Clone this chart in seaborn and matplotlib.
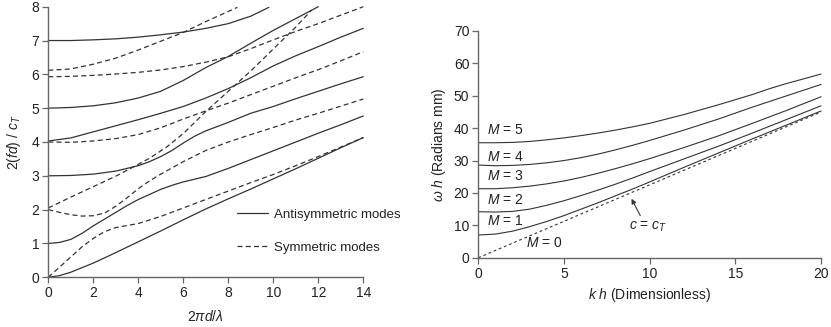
import matplotlib
matplotlib.use("Agg")
import matplotlib.pyplot as plt
import pandas as pd
import seaborn as sns
from matplotlib.lines import Line2D

# ---------------- Left panel: Lamb-wave dispersion, 2(fd)/c_T vs 2*pi*d/lambda
a0_x = [0, 0.5, 1, 2, 3, 4, 5, 6, 7, 8, 9, 10, 11, 12, 13, 14]
a0_y = [0, 0.05, 0.15, 0.42, 0.73, 1.05, 1.37, 1.70, 2.02, 2.32, 2.61, 2.91, 3.21, 3.52, 3.83, 4.13]

s0_x = [0, 0.5, 1, 1.5, 2, 2.5, 3, 3.5, 4, 5, 6, 7, 8, 9, 10, 11, 12, 13, 14]
s0_y = [0, 0.30, 0.60, 0.90, 1.15, 1.35, 1.47, 1.53, 1.59, 1.80, 2.05, 2.30, 2.55, 2.80, 3.04, 3.30, 3.57, 3.85, 4.13]

a1_x = [0, 0.5, 1, 1.5, 2, 2.5, 3, 3.5, 4, 4.5, 5, 5.5, 6, 7, 8, 9, 10, 11, 12, 13, 14]
a1_y = [1.0, 1.03, 1.12, 1.30, 1.52, 1.72, 1.92, 2.12, 2.30, 2.45, 2.60, 2.72, 2.82, 2.98, 3.22, 3.48, 3.74, 4.00, 4.26, 4.51, 4.77]

s1_x = [0, 0.5, 1, 1.5, 2, 2.5, 3, 3.5, 4, 4.5, 5, 6, 7, 8, 9, 10, 11, 12, 13, 14]
s1_y = [2.0, 1.92, 1.85, 1.81, 1.82, 1.90, 2.10, 2.35, 2.62, 2.85, 3.05, 3.42, 3.75, 4.00, 4.22, 4.43, 4.65, 4.85, 5.06, 5.27]

s2_x = [0, 1, 2, 3, 3.8, 4.5, 5.26, 6, 7, 8, 9, 10, 11, 11.7]
s2_y = [2.05, 2.37, 2.68, 2.99, 3.27, 3.52, 3.85, 4.25, 4.90, 5.50, 6.10, 6.75, 7.40, 7.90]

a2_x = [0, 1, 2, 3, 4, 4.5, 5, 5.5, 6, 6.5, 7, 8, 9, 10, 11, 12, 13, 14]
a2_y = [3.0, 3.01, 3.05, 3.14, 3.30, 3.42, 3.57, 3.75, 3.97, 4.17, 4.33, 4.58, 4.85, 5.05, 5.28, 5.50, 5.72, 5.93]

s3_x = [0, 1, 2, 3, 4, 5, 6, 7, 8, 9, 10, 11, 12, 13, 14]
s3_y = [4.0, 3.99, 4.03, 4.10, 4.22, 4.42, 4.68, 4.92, 5.15, 5.40, 5.65, 5.90, 6.14, 6.40, 6.67]

a3_x = [0, 1, 2, 3, 4, 5, 6, 7, 8, 9, 10, 11, 12, 13, 14]
a3_y = [4.03, 4.12, 4.30, 4.48, 4.66, 4.85, 5.05, 5.30, 5.58, 5.90, 6.25, 6.55, 6.82, 7.10, 7.36]

a4_x = [0, 1, 2, 3, 4, 5, 6, 7, 8, 9, 10, 11, 12]
a4_y = [5.0, 5.02, 5.07, 5.16, 5.30, 5.50, 5.82, 6.20, 6.53, 6.92, 7.30, 7.65, 8.0]

s4_x = [0, 1, 2, 3, 4, 5, 6, 7, 8, 9, 10, 11, 12, 13, 14]
s4_y = [5.93, 5.94, 5.97, 6.01, 6.06, 6.13, 6.23, 6.36, 6.52, 6.76, 7.02, 7.27, 7.50, 7.75, 8.0]

s5_x = [0, 1, 2, 3, 4, 5, 6, 7, 8, 8.4]
s5_y = [6.12, 6.16, 6.30, 6.48, 6.72, 6.98, 7.24, 7.56, 7.86, 7.98]

a5_x = [0, 1, 2, 3, 4, 5, 6, 7, 8, 9, 9.8]
a5_y = [7.0, 7.0, 7.02, 7.05, 7.10, 7.17, 7.25, 7.36, 7.50, 7.72, 7.98]

left_xticks = [0, 2, 4, 6, 8, 10, 12, 14]
left_yticks = [0, 1, 2, 3, 4, 5, 6, 7, 8]

# ---------------- Right panel: omega*h vs k*h for orders M
m1_x = [0, 1, 2, 3, 4, 5, 6, 7, 8, 9, 10, 12, 14, 16, 18, 20]
m1_y = [7.0, 7.3, 8.2, 9.6, 11.2, 13.0, 15.0, 17.0, 19.1, 21.2, 23.4, 27.9, 32.3, 36.7, 41.0, 45.3]

m2_x = [0, 1, 2, 3, 4, 5, 6, 7, 8, 9, 10, 12, 14, 16, 18, 20]
m2_y = [14.2, 14.1, 14.3, 15.0, 16.2, 17.6, 19.2, 20.9, 22.7, 24.6, 26.6, 30.5, 34.4, 38.5, 42.7, 46.9]

m3_x = [0, 1, 2, 3, 4, 5, 6, 7, 8, 9, 10, 12, 14, 16, 18, 20]
m3_y = [21.3, 21.3, 21.6, 22.1, 22.8, 23.7, 24.8, 26.1, 27.5, 29.0, 30.6, 34.0, 37.6, 41.5, 45.5, 49.7]

m4_x = [0, 1, 2, 3, 4, 5, 6, 7, 8, 9, 10, 12, 14, 16, 18, 20]
m4_y = [28.6, 28.4, 28.5, 28.8, 29.3, 30.0, 30.9, 32.0, 33.3, 34.7, 36.2, 39.4, 42.8, 46.5, 50.0, 53.5]

m5_x = [0, 1, 2, 3, 4, 5, 6, 7, 8, 9, 10, 12, 14, 16, 17, 18, 20]
m5_y = [35.5, 35.5, 35.6, 35.9, 36.4, 37.0, 37.7, 38.5, 39.4, 40.4, 41.5, 44.2, 47.2, 50.4, 52.2, 53.8, 56.7]

ct_x = [0, 20]
ct_y = [0, 45.0]

right_xticks = [0, 5, 10, 15, 20]
right_yticks = [0, 10, 20, 30, 40, 50, 60, 70]

m_labels = ["M = 0", "M = 1", "M = 2", "M = 3", "M = 4", "M = 5"]
m_label_x = [3.85, 1.55, 1.55, 1.55, 1.55, 1.55]
m_label_y = [4.4, 11.4, 17.8, 25.2, 31.2, 39.4]


def frame(curves):
    parts = []
    for name, family, xs, ys in curves:
        parts.append(pd.DataFrame({"x": xs, "y": ys, "mode": name, "family": family}))
    return pd.concat(parts, ignore_index=True)


left_df = frame([
    ("A0", "Antisymmetric", a0_x, a0_y),
    ("A1", "Antisymmetric", a1_x, a1_y),
    ("A2", "Antisymmetric", a2_x, a2_y),
    ("A3", "Antisymmetric", a3_x, a3_y),
    ("A4", "Antisymmetric", a4_x, a4_y),
    ("A5", "Antisymmetric", a5_x, a5_y),
    ("S0", "Symmetric", s0_x, s0_y),
    ("S1", "Symmetric", s1_x, s1_y),
    ("S2", "Symmetric", s2_x, s2_y),
    ("S3", "Symmetric", s3_x, s3_y),
    ("S4", "Symmetric", s4_x, s4_y),
    ("S5", "Symmetric", s5_x, s5_y),
])

right_df = frame([
    ("M1", "mode", m1_x, m1_y),
    ("M2", "mode", m2_x, m2_y),
    ("M3", "mode", m3_x, m3_y),
    ("M4", "mode", m4_x, m4_y),
    ("M5", "mode", m5_x, m5_y),
    ("M0", "shear", ct_x, ct_y),
])

sns.set_theme(style="white")
plt.rcParams["font.family"] = ["Liberation Sans", "DejaVu Sans"]
plt.rcParams["mathtext.fontset"] = "custom"
plt.rcParams["mathtext.rm"] = "Liberation Sans"
plt.rcParams["mathtext.it"] = "Liberation Sans:italic"

line_c = "#333333"
spine_c = "#666666"
text_c = "#222222"

fig = plt.figure(figsize=(8.31, 3.27), dpi=100)
ax1 = fig.add_axes([0.0581, 0.152, 0.3791, 0.8275])
ax2 = fig.add_axes([0.5756, 0.2119, 0.4124, 0.6933])

sns.lineplot(data=left_df, x="x", y="y", units="mode", estimator=None,
             style="family", dashes={"Antisymmetric": "", "Symmetric": (4, 2.6)},
             color=line_c, linewidth=0.9, sort=False, legend=False, ax=ax1)

sns.lineplot(data=right_df, x="x", y="y", units="mode", estimator=None,
             style="family", dashes={"mode": "", "shear": (2.5, 2.5)},
             color=line_c, linewidth=0.8, sort=False, legend=False, ax=ax2)

for ax, xt, yt in [(ax1, left_xticks, left_yticks), (ax2, right_xticks, right_yticks)]:
    ax.set_xlim(xt[0], xt[-1])
    ax.set_ylim(yt[0], yt[-1])
    ax.set_xticks(xt)
    ax.set_yticks(yt)
    for side in ["top", "right"]:
        ax.spines[side].set_visible(False)
    for side in ["left", "bottom"]:
        ax.spines[side].set_color(spine_c)
        ax.spines[side].set_linewidth(1.0)
    ax.tick_params(axis="both", direction="out", length=4.5, width=0.9,
                   color=spine_c, labelsize=10, labelcolor=text_c, pad=2,
                   left=True, bottom=True)
    for line in ax.get_lines():
        line.set_clip_on(False)

ax1.set_xlabel(r"2$\pi d/\lambda$", fontsize=10, color=text_c, labelpad=6)
ax1.set_ylabel(r"2($fd$) / $c_T$", fontsize=10, color=text_c, labelpad=6)
ax2.set_xlabel(r"$k$ $h$ (Dimensionless)", fontsize=10, color=text_c, labelpad=4)
ax2.set_ylabel(r"$\omega$ $h$ (Radians mm)", fontsize=10, color=text_c, labelpad=4)

handles = [Line2D([], [], color=line_c, lw=0.9, ls="-"),
           Line2D([], [], color=line_c, lw=0.9, ls=(0, (4, 2.6)))]
ax1.legend(handles, ["Antisymmetric modes", "Symmetric modes"], frameon=False,
           loc="center left", bbox_to_anchor=(0.598, 0.17), borderpad=0,
           borderaxespad=0, handlelength=2.4, handletextpad=0.45,
           labelspacing=1.55, fontsize=9.5, labelcolor=text_c)

for lab, lx, ly in zip(m_labels, m_label_x, m_label_y):
    ax2.text(lx, ly, r"$M$" + lab[1:], fontsize=10, color=text_c,
             ha="center", va="center")

# shear-speed label with a pointer onto the dashed line
ax2.text(9.9, 9.6, r"$c$ = $c_T$", fontsize=10, color=text_c,
         ha="center", va="center")
ax2.annotate("", xy=(8.94, 18.2), xytext=(9.45, 13.0),
             arrowprops=dict(arrowstyle="-|>", color=line_c, lw=0.8,
                             mutation_scale=7, shrinkA=0, shrinkB=0))

fig.savefig("out.png", dpi=100)
